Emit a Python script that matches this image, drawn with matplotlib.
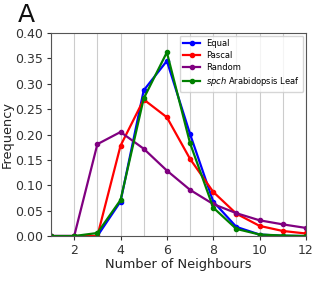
import matplotlib
matplotlib.use("Agg")
import matplotlib.pyplot as plt
from matplotlib.ticker import MultipleLocator

x = [1, 2, 3, 4, 5, 6, 7, 8, 9, 10, 11, 12]
equal = [0, 0, 0, 0.068, 0.287, 0.345, 0.201, 0.068, 0.018, 0.003, 0.0005, 0]
pascal = [0, 0, 0, 0.178, 0.269, 0.234, 0.152, 0.087, 0.044, 0.020, 0.010, 0.005]
random_ = [0, 0, 0.181, 0.205, 0.172, 0.129, 0.091, 0.063, 0.045, 0.031, 0.023, 0.016]
spch = [0, 0, 0.006, 0.071, 0.271, 0.362, 0.183, 0.056, 0.014, 0.003, 0.001, 0]

fig = plt.figure(figsize=(3.23, 3.03), dpi=100)
ax = fig.add_axes([0.158, 0.221, 0.789, 0.670])

ax.plot(x, equal, color='blue', marker='o', markersize=3, lw=1.6, label='Equal')
ax.plot(x, pascal, color='red', marker='o', markersize=3, lw=1.6, label='Pascal')
ax.plot(x, random_, color='purple', marker='o', markersize=3, lw=1.6, label='Random')
ax.plot(x, spch, color='green', marker='o', markersize=3, lw=1.6, label='$\\it{spch}$ Arabidopsis Leaf')

ax.set_xlim(1, 12)
ax.set_ylim(0, 0.40)
ax.xaxis.set_major_locator(MultipleLocator(2))
ax.xaxis.set_minor_locator(MultipleLocator(1))
ax.yaxis.set_major_locator(MultipleLocator(0.05))
ax.set_yticklabels([f"{v:.2f}" for v in ax.get_yticks()])
ax.grid(True, axis='x', which='both', color='#cccccc', lw=0.8)
ax.set_axisbelow(True)
ax.tick_params(axis='both', labelsize=9, colors='#333333', length=3, pad=2.5)
ax.tick_params(which='minor', length=0)
for s in ax.spines.values():
    s.set_color('#555555')
ax.set_xlabel('Number of Neighbours', fontsize=9.3, color='#222222', labelpad=1)
ax.set_ylabel('Frequency', fontsize=9.3, color='#222222', labelpad=1.5)
ax.legend(loc='upper right', fontsize=6, handlelength=2.0, borderpad=0.45,
          labelspacing=0.35, borderaxespad=0.3, handletextpad=0.7)

fig.text(0.055, 0.928, 'A', fontsize=18, color='#111111')

fig.savefig('out.png', dpi=100)
